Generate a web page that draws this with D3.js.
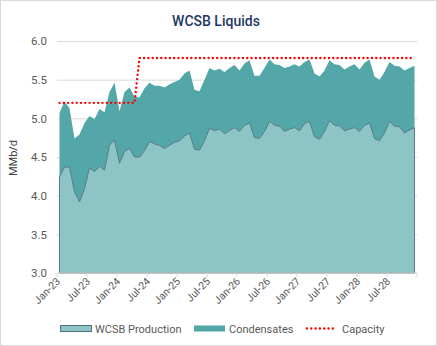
<!DOCTYPE html>
<html>
<head>
<meta charset="utf-8">
<script src="https://cdn.jsdelivr.net/npm/d3@7"></script>
<style>
    body { margin: 0; background: #fff; }
    svg text { font-family: 'Roboto', 'Liberation Sans', sans-serif; }
</style>
</head>
<body>
<div id="chart"></div>
<script>
// Monthly categories, Jan-23 .. Dec-28
var months = d3.timeMonths(new Date(2023, 0, 1), new Date(2029, 0, 1)).map(d3.timeFormat('%b-%y'));
var tickLabels = ['Jan-23', 'Jul-23', 'Jan-24', 'Jul-24', 'Jan-25', 'Jul-25', 'Jan-26', 'Jul-26',
    'Jan-27', 'Jul-27', 'Jan-28', 'Jul-28'];
var yTicks = [3.0, 3.5, 4.0, 4.5, 5.0, 5.5, 6.0];

// MMb/d
var production = [
    4.24, 4.37, 4.37, 4.05, 3.92, 4.09, 4.36, 4.31, 4.38, 4.33, 4.65, 4.72,
    4.42, 4.57, 4.61, 4.50, 4.50, 4.58, 4.70, 4.67, 4.65, 4.61, 4.65, 4.69,
    4.71, 4.77, 4.81, 4.60, 4.59, 4.71, 4.87, 4.84, 4.86, 4.80, 4.84, 4.88,
    4.83, 4.91, 4.94, 4.75, 4.74, 4.83, 4.96, 4.91, 4.90, 4.83, 4.86, 4.88,
    4.84, 4.93, 4.96, 4.76, 4.73, 4.83, 4.97, 4.91, 4.90, 4.84, 4.86, 4.88,
    4.83, 4.91, 4.94, 4.74, 4.71, 4.81, 4.96, 4.90, 4.89, 4.81, 4.85, 4.88
];
var condensates = [
    0.83, 0.85, 0.76, 0.69, 0.87, 0.85, 0.67, 0.68, 0.74, 0.75, 0.69, 0.74,
    0.67, 0.77, 0.79, 0.78, 0.77, 0.81, 0.76, 0.75, 0.77, 0.79, 0.79, 0.78,
    0.79, 0.81, 0.81, 0.77, 0.76, 0.79, 0.78, 0.78, 0.78, 0.80, 0.81, 0.81,
    0.79, 0.80, 0.81, 0.80, 0.81, 0.82, 0.80, 0.79, 0.79, 0.82, 0.81, 0.82,
    0.83, 0.80, 0.80, 0.82, 0.81, 0.79, 0.78, 0.79, 0.79, 0.79, 0.81, 0.82,
    0.80, 0.81, 0.82, 0.80, 0.79, 0.79, 0.77, 0.78, 0.78, 0.81, 0.80, 0.80
];
var capacity = [
    5.2, 5.2, 5.2, 5.2, 5.2, 5.2, 5.2, 5.2, 5.2, 5.2, 5.2, 5.2,
    5.2, 5.2, 5.2, 5.2, 5.78, 5.78, 5.78, 5.78, 5.78, 5.78, 5.78, 5.78,
    5.78, 5.78, 5.78, 5.78, 5.78, 5.78, 5.78, 5.78, 5.78, 5.78, 5.78, 5.78,
    5.78, 5.78, 5.78, 5.78, 5.78, 5.78, 5.78, 5.78, 5.78, 5.78, 5.78, 5.78,
    5.78, 5.78, 5.78, 5.78, 5.78, 5.78, 5.78, 5.78, 5.78, 5.78, 5.78, 5.78,
    5.78, 5.78, 5.78, 5.78, 5.78, 5.78, 5.78, 5.78, 5.78, 5.78, 5.78, 5.78
];

var colors = { production: '#8dc4c6', condensates: '#53a7a9', outline: '#4f6f79', capacity: '#ff0000' };

var W = 437, H = 346;
var margin = { top: 41, right: 20, bottom: 73, left: 57 };

var data = months.map(function (m, i) {
    return { month: m, production: production[i], condensates: condensates[i], capacity: capacity[i] };
});

var x = d3.scaleBand().domain(months).range([margin.left, W - margin.right]).padding(0);
var cx = function (d) { return x(d.month) + x.bandwidth() / 2; };
var y = d3.scaleLinear().domain([3, 6]).range([H - margin.bottom, margin.top]);

var svg = d3.select('#chart').append('svg').attr('width', W).attr('height', H);

// Frame
svg.append('rect')
    .attr('x', 0.5).attr('y', 0.5)
    .attr('width', W - 1).attr('height', H - 1)
    .attr('fill', '#fff').attr('stroke', '#d9d9d9');

// Title
svg.append('text')
    .attr('x', 216).attr('y', 26)
    .attr('text-anchor', 'middle')
    .attr('font-size', 14).attr('font-weight', 500)
    .attr('fill', '#1f3864')
    .text('WCSB Liquids');

// Gridlines + y labels
var yAxis = d3.axisLeft(y).tickValues(yTicks).tickFormat(d3.format('.1f'))
    .tickSize(-(W - margin.left - margin.right)).tickPadding(10);
svg.append('g')
    .attr('class', 'y axis')
    .attr('transform', 'translate(' + margin.left + ',0)')
    .call(yAxis)
    .call(function (g) {
        g.select('.domain').remove();
        g.selectAll('line').attr('stroke', '#d9d9d9');
        g.selectAll('text').attr('fill', '#595959').attr('font-size', 11.5);
    });

// Y axis label
svg.append('text')
    .attr('transform', 'translate(17,' + 158 + ') rotate(-90)')
    .attr('text-anchor', 'middle')
    .attr('font-size', 11).attr('fill', '#404040')
    .text('MMb/d');

// Stacked areas
var areaProd = d3.area()
    .x(cx)
    .y0(y(3))
    .y1(function (d) { return y(d.production); });
var areaCond = d3.area()
    .x(cx)
    .y0(function (d) { return y(d.production); })
    .y1(function (d) { return y(d.production + d.condensates); });

svg.append('path')
    .datum(data)
    .attr('d', areaCond)
    .attr('fill', colors.condensates);

svg.append('path')
    .datum(data)
    .attr('d', areaProd)
    .attr('fill', colors.production)
    .attr('stroke', colors.outline)
    .attr('stroke-width', 0.9);

// Capacity
var capLine = d3.line().x(cx).y(function (d) { return y(d.capacity); });
svg.append('path')
    .datum(data)
    .attr('d', capLine)
    .attr('fill', 'none')
    .attr('stroke', colors.capacity)
    .attr('stroke-width', 2.4)
    .attr('stroke-linecap', 'round')
    .attr('stroke-dasharray', '0 4.3');

// X axis
var xAxisG = svg.append('g')
    .attr('class', 'x axis')
    .attr('transform', 'translate(0,' + y(3) + ')');
xAxisG.append('line')
    .attr('x1', margin.left).attr('x2', W - margin.right)
    .attr('stroke', '#d9d9d9');
var tickPos = months.filter(function (m, i) { return i % 6 === 0; }).map(function (m) { return x(m); });
tickPos.push(W - margin.right);
xAxisG.selectAll('line.tick')
    .data(tickPos)
    .enter()
    .append('line')
    .attr('class', 'tick')
    .attr('x1', function (d) { return d; }).attr('x2', function (d) { return d; })
    .attr('y1', 0).attr('y2', 4)
    .attr('stroke', '#d9d9d9');
xAxisG.selectAll('text')
    .data(tickLabels)
    .enter()
    .append('text')
    .attr('transform', function (d) {
        return 'translate(' + (x(d) + 4) + ',9) rotate(-45)';
    })
    .attr('text-anchor', 'end')
    .attr('font-size', 10.5)
    .attr('fill', '#595959')
    .text(function (d) { return d; });

// Legend
var legend = svg.append('g').attr('transform', 'translate(0,329)');
legend.append('rect')
    .attr('x', 60.5).attr('y', -3.5).attr('width', 31).attr('height', 6)
    .attr('fill', colors.production).attr('stroke', colors.outline);
legend.append('text').attr('x', 95).attr('y', 4).text('WCSB Production');
legend.append('rect')
    .attr('x', 194).attr('y', -3.5).attr('width', 31).attr('height', 6)
    .attr('fill', colors.condensates);
legend.append('text').attr('x', 229).attr('y', 4).text('Condensates');
legend.append('line')
    .attr('x1', 307).attr('x2', 335).attr('y1', -0.5).attr('y2', -0.5)
    .attr('stroke', colors.capacity).attr('stroke-width', 2.4)
    .attr('stroke-linecap', 'round').attr('stroke-dasharray', '0 4.3');
legend.append('text').attr('x', 342).attr('y', 4).text('Capacity');
legend.selectAll('text').attr('font-size', 11).attr('fill', '#595959');
</script>
</body>
</html>
